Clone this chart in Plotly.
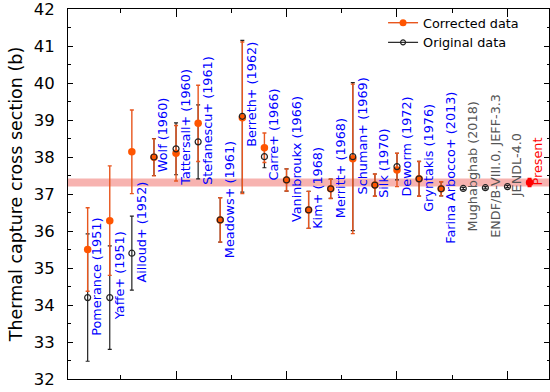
import plotly.graph_objects as go

labels = ["Pomerance (1951)", "Yaffe+ (1951)", "Ailloud+ (1952)", "Wolf (1960)",
          "Tattersall+ (1960)", "Stefanescu+ (1961)", "Meadows+ (1961)", "Berreth+ (1962)",
          "Carre+ (1966)", "Vaninbroukx (1966)", "Kim+ (1968)", "Merritt+ (1968)",
          "Schuman+ (1969)", "Silk (1970)", "Deworm (1972)", "Gryntakis (1976)",
          "Farina Arbocco+ (2013)", "Mughabghab (2018)", "ENDF/B-VIII.0, JEFF-3.3", "JENDL-4.0"]
label_kind = ["exp"] * 17 + ["eval"] * 3

corrected = [35.5, 36.28, 38.14, 37.99, 38.1, 38.91, 36.3, 39.06, 38.25, 37.38, 36.57,
             37.14, 37.95, 37.24, 37.65, 37.41, 37.14, None, None, None]
corrected_err = [1.13, 1.48, 1.13, 0.5, 0.75, 1.03, 0.6, 2.05, 0.4, 0.3, 0.5,
                 0.26, 2.02, 0.3, 0.45, 0.47, 0.19, None, None, None]
original = [34.2, 34.2, 35.4, 38.0, 38.22, 38.41, 36.3, 39.1, 38.01, 37.38, 36.57,
            37.14, 38.01, 37.24, 37.74, 37.41, 37.14, 37.15, 37.17, 37.2]
original_err = [1.72, 1.4, 1.0, 0.5, 0.7, 1.0, 0.6, 2.05, 0.3, 0.3, 0.5,
                0.26, 2.0, 0.3, 0.36, 0.47, 0.19, 0.03, 0.03, 0.03]

present_label = "Present"
present_value = 37.31
present_err = 0.11

# bottom end (in b) of each rotated label
label_base = [33.14, 33.55, 34.57, 37.57, 37.19, 37.22, 35.24, 38.25, 37.33, 36.21, 36.03,
              36.32, 36.95, 36.86, 36.91, 36.5, 35.64, 35.95, 35.78, 36.88]
present_label_base = 37.2

n = len(labels)
xs = list(range(n))
x_present = n

ORANGE = "#FF5500"
ORANGE_BAR = "#E8561E"
FONT = "DejaVu Sans"

fig = go.Figure()

fig.add_hrect(y0=present_value - present_err, y1=present_value + present_err,
              fillcolor="#F7B3B0", line_width=0, layer="below")

# original error bars
fig.add_trace(go.Scatter(
    x=xs, y=original, mode="markers",
    marker=dict(size=1, color="rgba(0,0,0,0)"),
    error_y=dict(type="data", array=original_err, color="#222222", thickness=1.2, width=2),
    showlegend=False, hoverinfo="skip"))

# corrected
fig.add_trace(go.Scatter(
    x=xs, y=corrected, mode="markers",
    marker=dict(size=7.5, color=ORANGE, line=dict(width=0)),
    error_y=dict(type="data", array=corrected_err, color=ORANGE_BAR, thickness=1.4, width=2),
    showlegend=False))

# original markers on top
fig.add_trace(go.Scatter(
    x=xs, y=original, mode="markers",
    marker=dict(size=6, symbol="circle-open", color="#222222", line=dict(width=1.2)),
    showlegend=False))

# present
fig.add_trace(go.Scatter(
    x=[x_present], y=[present_value], mode="markers",
    marker=dict(size=7.5, color="#FF0000"),
    error_y=dict(type="data", array=[present_err], color="#FF0000", thickness=1.4, width=2),
    showlegend=False))

# legend entries
fig.add_trace(go.Scatter(x=[None], y=[None], mode="lines+markers", name="Corrected data",
                         line=dict(color=ORANGE_BAR, width=1.4),
                         marker=dict(size=7, color=ORANGE)))
fig.add_trace(go.Scatter(x=[None], y=[None], mode="lines+markers", name="Original data",
                         line=dict(color="#222222", width=1.2),
                         marker=dict(size=5, symbol="circle-open", color="#222222",
                                     line=dict(width=1.2))))

colors = {"exp": "#0000FF", "eval": "#555555"}
for i, (lab, kind, base) in enumerate(zip(labels, label_kind, label_base)):
    fig.add_annotation(x=i + 0.42, y=base, xref="x", yref="y", text=lab, textangle=-90,
                       showarrow=False, xanchor="center", yanchor="bottom", borderpad=0,
                       font=dict(family=FONT, size=12.8, color=colors[kind]))
fig.add_annotation(x=x_present + 0.38, y=present_label_base, xref="x", yref="y",
                   text=present_label, textangle=-90, showarrow=False,
                   xanchor="center", yanchor="bottom", borderpad=0,
                   font=dict(family=FONT, size=12.8, color="#FF0000"))

fig.update_layout(
    width=550, height=392,
    margin=dict(l=68, r=1, t=9, b=13),
    paper_bgcolor="white", plot_bgcolor="white",
    font=dict(family=FONT, color="black"),
    legend=dict(x=0.655, y=1.003, xanchor="left", yanchor="top",
                bgcolor="rgba(255,255,255,0)", font=dict(family=FONT, size=12.8),
                itemwidth=30, tracegroupgap=0),
)
fig.update_xaxes(range=[-0.89, 20.88], showgrid=False, zeroline=False,
                 showline=True, linecolor="black", linewidth=1, mirror="allticks",
                 ticks="inside", tickmode="linear", tick0=4, dtick=5, ticklen=8,
                 tickcolor="black", tickwidth=1, showticklabels=False,
                 minor=dict(ticks="inside", tick0=1.5, dtick=5, ticklen=4,
                            tickcolor="black", tickwidth=1, showgrid=False))
fig.update_yaxes(range=[32, 42], showgrid=False, zeroline=False,
                 showline=True, linecolor="black", linewidth=1, mirror="allticks",
                 ticks="inside", tickmode="linear", tick0=32, dtick=1, ticklen=5,
                 tickcolor="black", tickwidth=1, ticklabelstandoff=9,
                 ticklabeloverflow="allow",
                 tickfont=dict(family=FONT, size=16.5, color="black"),
                 minor=dict(ticks="inside", dtick=0.5, ticklen=2.5,
                            tickcolor="black", tickwidth=1, showgrid=False),
                 title=dict(text="Thermal capture cross section (b)",
                            font=dict(family=FONT, size=17.5, color="black"), standoff=6))

fig.write_html("out.html")
